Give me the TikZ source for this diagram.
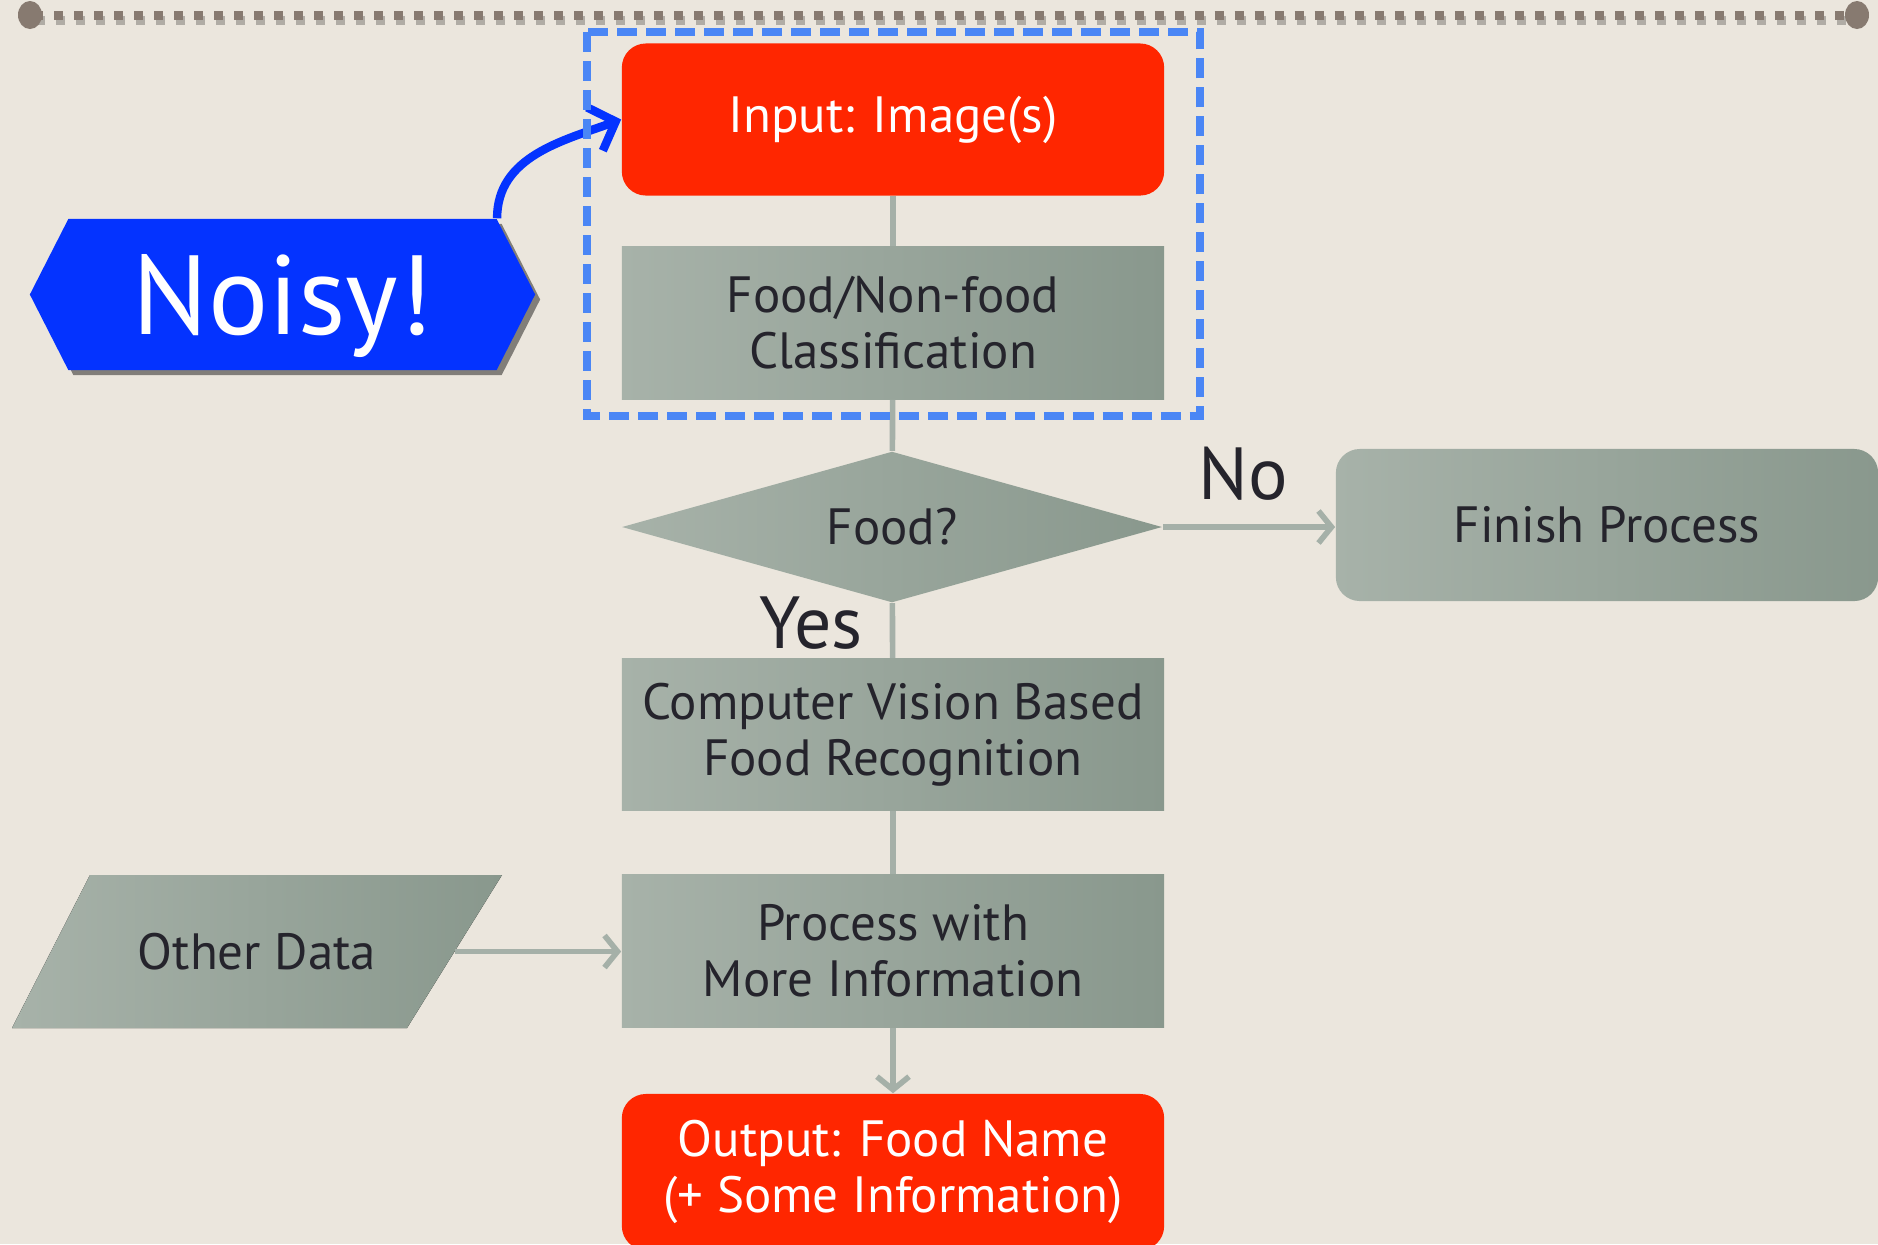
\documentclass[tikz,border=0pt]{standalone}
\usepackage{fontspec}
\setmainfont{PT Sans}
\usetikzlibrary{shapes.geometric,shapes.symbols,arrows.meta,shadows}
\definecolor{paper}{RGB}{235,230,221}
\definecolor{termred}{RGB}{255,38,0}
\definecolor{noisyblue}{RGB}{4,51,255}
\definecolor{frameblue}{RGB}{74,134,245}
\definecolor{boxlight}{RGB}{167,178,169}
\definecolor{boxdark}{RGB}{137,152,141}
\definecolor{linegray}{RGB}{165,176,168}
\definecolor{inkdark}{RGB}{37,36,44}
\definecolor{railbrown}{RGB}{135,122,112}
\tikzset{
	flowbase/.style={inner sep=0pt, align=center, font=\fontsize{14.5}{16}\selectfont},
	flowbox/.style={flowbase, rectangle, minimum width=5.42cm, minimum height=1.52cm, text=inkdark, left color=boxlight, right color=boxdark},
	flowterm/.style={flowbase, rectangle, rounded corners=0.24cm, minimum width=5.42cm, minimum height=1.52cm, fill=termred, text=white},
	flowdec/.style={flowbase, diamond, aspect=1.2, minimum width=5.4cm, minimum height=1.51cm, text=inkdark, left color=boxlight, right color=boxdark},
	flowline/.style={draw=linegray, line width=1.6pt},
	flowarrow/.style={flowline, -{Straight Barb[length=0.13cm, width=0.32cm, line width=1.6pt]}},
	noisytag/.style={signal, signal to=west and east, signal pointer angle=126, minimum width=5.05cm, minimum height=1.51cm, inner sep=0pt, text depth=0pt, fill=noisyblue, text=white, font=\fontsize{32}{36}\selectfont, drop shadow={shadow xshift=0.05cm, shadow yshift=-0.05cm, fill=black, opacity=0.45}},
	noisyarrow/.style={draw=noisyblue, line width=2.4pt, -{Straight Barb[length=0.22cm, width=0.46cm, line width=2.4pt]}},
	answer/.style={text=inkdark, inner sep=0pt, font=\fontsize{21}{24}\selectfont},
	rail/.style={draw=railbrown, line width=0.09cm, dash pattern=on 0.09cm off 0.11cm}
}

\begin{document}
\begin{tikzpicture}[x=0.01cm, y=-0.01cm]
	\clip (0,0) rectangle (1878,1244);
	\fill[paper] (0,0) rectangle (1878,1244);
	\draw[rail, draw=black, opacity=0.25] (36,20) -- (1851,20);
	\draw[rail] (34,15) -- (1853,15);
	\fill[railbrown] (30,15) ellipse [x radius=12, y radius=14];
	\fill[railbrown] (1857,15) ellipse [x radius=12, y radius=14];

	\node[flowterm] (input) at (893,119.5) {Input: Image(s)};
	\node[flowbox] (cls) at (893,323) {Food/Non-food\\Classification};
	\node[flowdec] (food) at (892,527) {Food?};
	\node[flowbox, rounded corners=0.24cm] (finish) at (1607,525) {Finish Process};
	\node[flowbox] (cv) at (893,734.5) {Computer Vision Based\\Food Recognition};
	\node[flowbox] (proc) at (893,951) {Process with\\More Information};
	\node[flowterm, minimum height=1.56cm] (out) at (893,1172) {Output: Food Name\\(+ Some Information)};
	\fill[left color=boxlight, right color=boxdark] (90,875) -- (502,875) -- (407,1028) -- (12,1028) -- cycle;
	\node[flowbase, text=inkdark] (other) at (257,951.5) {Other Data};
	\coordinate (otherout) at (455,951.5);
	\node[noisytag] (noisy) at (282.5,294.5) {Noisy!};
	\node[answer] (no) at (1243,474) {No};
	\node[answer] (yes) at (811,623) {Yes};

	\draw[flowline] (input) -- (cls);
	\draw[flowline] (cls) -- (food);
	\draw[flowline] (food) -- (cv);
	\draw[flowline] (cv) -- (proc);
	\draw[flowarrow] (proc) -- (out);
	\draw[flowarrow] (food.east) -- (food.east -| finish.west);
	\draw[flowarrow] (otherout) -- (otherout -| proc.west);
	\draw[noisyarrow] (noisy.north east) to[out=90, in=200] (input.west);

	\draw[frameblue, line width=0.075cm, dash pattern=on 0.2cm off 0.09cm] (587,32) rectangle (1200,416);
\end{tikzpicture}
\end{document}
